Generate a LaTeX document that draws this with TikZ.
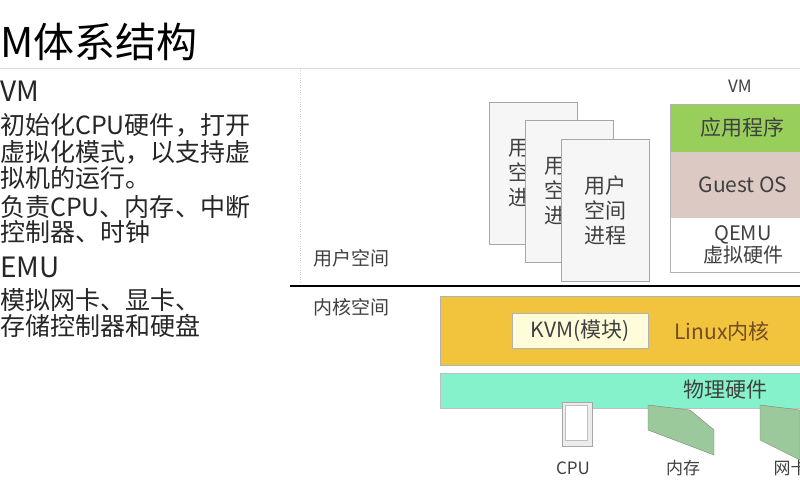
\documentclass[tikz,border=0pt]{standalone}
\usepackage{fontspec}
\setmainfont{Noto Sans CJK SC}
\definecolor{kern}{HTML}{F2C33C}
\definecolor{appg}{HTML}{98CF5A}
\definecolor{gos}{HTML}{DDC9C4}
\definecolor{phys}{HTML}{86F2CC}
\begin{document}
\begin{tikzpicture}[x=1pt,y=-1pt,
  proc/.style={draw=gray!70,fill=gray!7,minimum width=88pt,minimum height=142pt,inner sep=0pt},
  lbl/.style={font=\fontsize{19}{22}\selectfont,text=black!75},
  big/.style={font=\fontsize{21}{25}\selectfont,text=black!75},
  body/.style={anchor=west,inner sep=0pt,font=\fontsize{25}{27}\selectfont,text=black!85},
  head/.style={anchor=west,inner sep=0pt,font=\fontsize{28}{30}\selectfont,text=black!85}]
\useasboundingbox (0,0) rectangle (800,500);
\clip (0,0) rectangle (800,500);
\fill[white] (0,0) rectangle (800,500);
\node[anchor=west,inner sep=0pt,font=\fontsize{41}{44}\selectfont] (title) at (0,42) {M体系结构};
\draw[gray!30] (0,68) -- (800,68);
\draw[gray!40,dotted] (300,68) -- (300,282);
\node[head] (h1) at (0,91) {VM};
\node[body] (t1) at (0,125) {初始化CPU硬件，打开};
\node[body] (t2) at (0,152) {虚拟化模式，以支持虚};
\node[body] (t3) at (0,178) {拟机的运行。};
\node[body] (t4) at (0,207) {负责CPU、内存、中断};
\node[body] (t5) at (0,232) {控制器、时钟};
\node[head] (h2) at (0,267) {EMU};
\node[body] (t6) at (0,300) {模拟网卡、显卡、};
\node[body] (t7) at (0,326) {存储控制器和硬盘};
% processes
\node[proc] (p1) at (533,173) {};
\node[big,align=center,anchor=west,inner sep=0pt] at (508,173) {用\\空\\进};
\node[proc] (p2) at (569,191) {};
\node[big,align=center,anchor=west,inner sep=0pt] at (544,191) {用\\空\\进};
\node[proc,big,align=center] (p3) at (605,210) {用户\\空间\\进程};
% VM stack
\node[lbl,font=\fontsize{17}{19}\selectfont] (vm) at (740,86) {VM};
\draw[gray!60,fill=white] (670,104) rectangle (805,272);
\fill[appg] (670,104) rectangle (805,152);
\fill[gos] (670,152) rectangle (805,218);
\draw[gray!60] (670,104) rectangle (805,272);
\node[big] (app) at (742,128) {应用程序};
\node[big] (gosn) at (743,185) {Guest OS};
\node[big,align=center,font=\fontsize{20}{22}\selectfont] (qemu) at (743,245) {QEMU\\虚拟硬件};
% spaces
\node[lbl] (us) at (351,258) {用户空间};
\node[lbl] (ks) at (351,307) {内核空间};
\draw[line width=1.8pt] (290,286) -- (800,286);
% kernel
\fill[kern] (440,296) rectangle (805,365);
\draw[gray!60] (440,296) rectangle (805,365);
\node[draw=gray!60,fill=yellow!15!white,minimum width=136pt,minimum height=35pt,inner sep=0pt,big] (kvm) at (580,331) {KVM(模块)};
\node[big,text=brown!60!black] (lk) at (722,331) {Linux内核};
\fill[phys] (440,373) rectangle (805,408);
\draw[gray!50] (440,373) rectangle (805,408);
\node[big] (hw) at (725,390) {物理硬件};
% icons
\draw[gray!70,fill=gray!15] (562,402) rectangle (592,446);
\draw[gray!50,fill=white] (565,405) rectangle (587,440);
\draw[fill=green!30!gray!60,draw=gray] (648,405) -- (690,410) -- (714,430) -- (714,455) -- (648,430) -- cycle;
\draw[fill=green!30!gray!60,draw=gray] (760,405) -- (800,410) -- (800,460) -- (760,440) -- cycle;
\node[lbl,font=\fontsize{17}{19}\selectfont] (cpu) at (573,468) {CPU};
\node[lbl,font=\fontsize{17}{19}\selectfont] (mem) at (683,468) {内存};
\node[lbl,font=\fontsize{17}{19}\selectfont,anchor=west] (nic) at (770,468) {网卡};
\end{tikzpicture}
\end{document}
